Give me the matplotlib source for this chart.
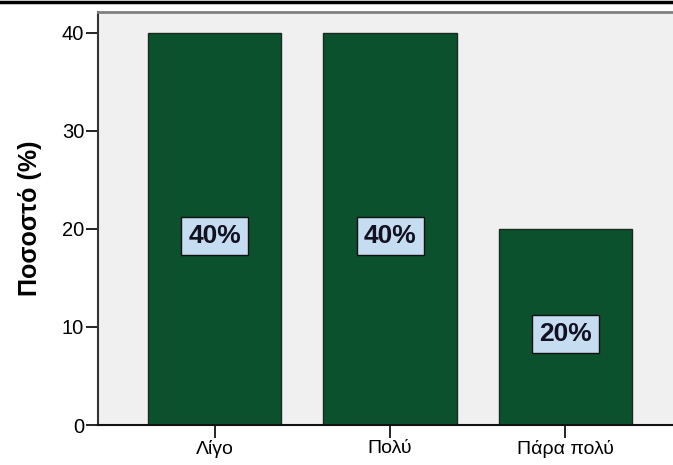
import matplotlib
matplotlib.use('Agg')
import matplotlib.pyplot as plt
from matplotlib.lines import Line2D

categories = ['Λίγο', 'Πολύ', 'Πάρα πολύ']
percents = [40, 40, 20]
labels = ['40%', '40%', '20%']

plt.rcParams['font.family'] = ['Liberation Sans', 'DejaVu Sans']

fig = plt.figure(figsize=(6.73, 4.65), dpi=100)
ax = fig.add_axes([98/673, 1 - 425/465, 1 - 98/673 + 0.01, 413/465])
ax.set_facecolor('#f0f0f0')

x = list(range(len(categories)))
ax.bar(x, percents, width=0.76, color='#0c512d', edgecolor='#1a2a1f', linewidth=1.0, zorder=2)

# value labels sit a bit below half height, in light blue boxes
for xi, v, lab in zip(x, percents, labels):
    ax.text(xi, v / 2 - 0.7, lab, ha='center', va='center', fontsize=19, fontweight='bold',
            color='#111122', zorder=3,
            bbox=dict(boxstyle='square,pad=0.27', facecolor='#c6dcf0', edgecolor='#111111', linewidth=1.0))

ax.set_xlim(-0.664, 2.651)
ax.set_ylim(0, 42.1)
ax.set_yticks([0, 10, 20, 30, 40])
ax.set_xticks(x)
ax.set_xticklabels(categories, fontsize=14)
ax.tick_params(axis='y', labelsize=14.5, length=9, width=1.2, direction='out', pad=1)
ax.tick_params(axis='x', length=9, width=1.2, direction='out', pad=2)
ax.set_ylabel('Ποσοστό (%)', fontsize=18, fontweight='bold', labelpad=14)

ax.spines['left'].set_color('#333333')
ax.spines['left'].set_linewidth(1.5)
ax.spines['bottom'].set_color('#111111')
ax.spines['bottom'].set_linewidth(1.5)
ax.spines['top'].set_color('#808080')
ax.spines['top'].set_linewidth(2)
ax.spines['right'].set_visible(False)

fig.add_artist(Line2D([0, 1], [1 - 2.5/465, 1 - 2.5/465], color='black', linewidth=2.5))

fig.savefig('out.png', dpi=100)
